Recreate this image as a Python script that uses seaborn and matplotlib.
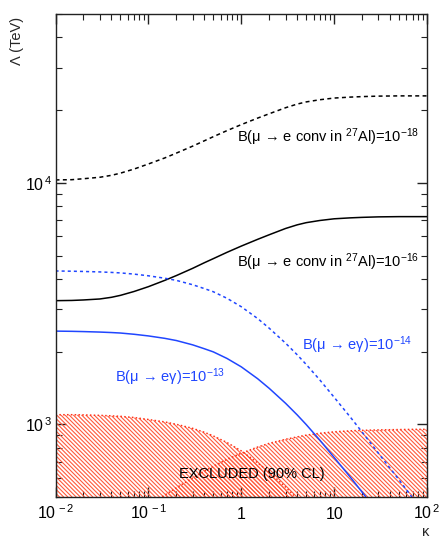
# coding: utf-8
import numpy as np
import pandas as pd
import seaborn as sns
import matplotlib
matplotlib.use('Agg')
import matplotlib.pyplot as plt
from matplotlib.ticker import NullFormatter, LogLocator

# values (kappa vs Lambda in TeV)
kappa = [0.01, 0.015, 0.02, 0.03, 0.04, 0.05, 0.07, 0.1, 0.15, 0.2, 0.3, 0.4, 0.5, 0.7,
         1, 1.5, 2, 3, 4, 5, 7, 10, 15, 20, 30, 50, 70, 100]
conv_18 = [10280, 10304, 10399, 10544, 10740, 10965, 11402, 11967, 12677, 13274,
           14191, 14928, 15524, 16444, 17418, 18535, 19320, 20464, 21184, 21627,
           22080, 22439, 22646, 22751, 22856, 22909, 22909, 22909]
conv_16 = [3251, 3258, 3273, 3304, 3357, 3420, 3548, 3715, 3945, 4130, 4426, 4667,
           4853, 5152, 5470, 5834, 6095, 6471, 6699, 6839, 6982, 7096, 7161, 7194,
           7228, 7244, 7244, 7244]
meg_14 = [4315, 4305, 4295, 4276, 4256, 4236, 4188, 4121, 4027, 3945, 3784, 3648,
          3540, 3327, 3069, 2742, 2500, 2168, 1941, 1770, 1528, 1294, 1069, 929,
          759, 589, 495, 415]
kappa_13 = kappa[:25]
meg_13 = [2432, 2427, 2421, 2410, 2399, 2388, 2360, 2323, 2270, 2223, 2133, 2056,
          1995, 1875, 1730, 1545, 1409, 1222, 1094, 998, 861, 729, 603, 524, 428]

# excluded regions (present limits)
kappa_ex1 = kappa[:19]
excl_1 = [1096, 1096, 1094, 1089, 1084, 1079, 1067, 1047, 1023, 1000, 962, 927,
          895, 841, 776, 693, 634, 550, 492]
kappa_ex2 = [0.13, 0.15, 0.2, 0.3, 0.4, 0.5, 0.7, 1, 1.5, 2, 3, 4, 5, 7, 10, 15,
             20, 30, 50, 70, 100]
excl_2 = [492, 509, 546, 600, 640, 670, 716, 759, 805, 834, 867, 887, 902, 918,
          931, 940, 944, 948, 951, 953, 953]

xticks = [0.01, 0.1, 1, 10, 100]
xticklabels = [r'$\mathregular{10^{\,-2}}$', r'$\mathregular{10^{\,-1}}$', '1', '10',
               r'$\mathregular{10^{\,2}}$']
yticks = [1e3, 1e4]
yticklabels = [r'$\mathregular{10^{\,3}}$', r'$\mathregular{10^{\,4}}$']

blue = '#2046ff'
red_hatch = '#ff5a3c'
red_edge = '#ff3318'

sns.set_theme(style='ticks')
plt.rcParams['font.family'] = ['Liberation Sans', 'DejaVu Sans']
plt.rcParams['mathtext.fontset'] = 'custom'
plt.rcParams['mathtext.rm'] = 'Liberation Sans'
plt.rcParams['mathtext.it'] = 'Liberation Sans:italic'
plt.rcParams['hatch.color'] = red_hatch
plt.rcParams['hatch.linewidth'] = 0.8

fig = plt.figure(figsize=(4.47, 5.52), dpi=100)
ax = fig.add_axes([0.1242, 0.0996, 0.8311, 0.875])
ax.set_xscale('log')
ax.set_yscale('log')

# hatched excluded areas
for kx, ky in [(kappa_ex1, excl_1), (kappa_ex2, excl_2)]:
    ax.fill_between(kx, 100, ky, facecolor='none', edgecolor=red_hatch,
                    hatch='\\' * 8, linewidth=0)
    sns.lineplot(x=kx, y=ky, ax=ax, color=red_edge, lw=1.1, linestyle=(0, (1, 1.5)))

# sensitivity curves
sns.lineplot(x=kappa, y=conv_18, ax=ax, color='black', lw=1.1, linestyle=(0, (2.6, 2.2)))
sns.lineplot(x=kappa, y=conv_16, ax=ax, color='black', lw=1.1)
sns.lineplot(x=kappa, y=meg_14, ax=ax, color=blue, lw=1.1, linestyle=(0, (2.0, 2.0)))
sns.lineplot(x=kappa_13, y=meg_13, ax=ax, color=blue, lw=1.1)

ax.set_xlim(0.01, 100)
ax.set_ylim(500, 5e4)
ax.set_xlabel('')
ax.set_ylabel('')

ax.set_xticks(xticks)
ax.set_xticklabels(xticklabels)
ax.set_yticks(yticks)
ax.set_yticklabels(yticklabels)
ax.xaxis.set_minor_locator(LogLocator(base=10, subs=np.arange(2, 10)))
ax.yaxis.set_minor_locator(LogLocator(base=10, subs=np.arange(2, 10)))
ax.xaxis.set_minor_formatter(NullFormatter())
ax.yaxis.set_minor_formatter(NullFormatter())
ax.tick_params(which='both', direction='in', top=True, right=True, color='#222222',
               labelcolor='black')
ax.tick_params(which='major', length=7, width=1.0, labelsize=11.5)
ax.tick_params(which='minor', length=4, width=0.8)
ax.tick_params(axis='x', which='major', pad=16)
ax.tick_params(axis='y', which='major', pad=2)
for lab in ax.get_xticklabels():
    lab.set_va('baseline')
for sp in ax.spines.values():
    sp.set_color('#222222')
    sp.set_linewidth(1.0)

# labels on curves
ax.text(82, 1.55e4, r'B(μ → e conv in $^{27}$Al)=10$^{-18}$', ha='right',
        va='center', fontsize=10.5, color='black')
ax.text(82, 4.7e3, r'B(μ → e conv in $^{27}$Al)=10$^{-16}$', ha='right',
        va='center', fontsize=10.5, color='black')
ax.text(69, 2.13e3, r'B(μ → eγ)=10$^{-14}$', ha='right', va='center',
        fontsize=10.5, color=blue)
ax.text(0.0437, 1.57e3, r'B(μ → eγ)=10$^{-13}$', ha='left', va='center',
        fontsize=10.5, color=blue)
ax.text(1.3, 624, 'EXCLUDED (90% CL)', ha='center', va='center',
        fontsize=10.5, color='black')

fig.text(0.038, 0.925, 'Λ (TeV)', rotation=90, ha='center', va='center', fontsize=10.5)
fig.text(0.953, 0.036, 'κ', ha='center', va='center', fontsize=10.5)

fig.savefig('out.png', dpi=100)
